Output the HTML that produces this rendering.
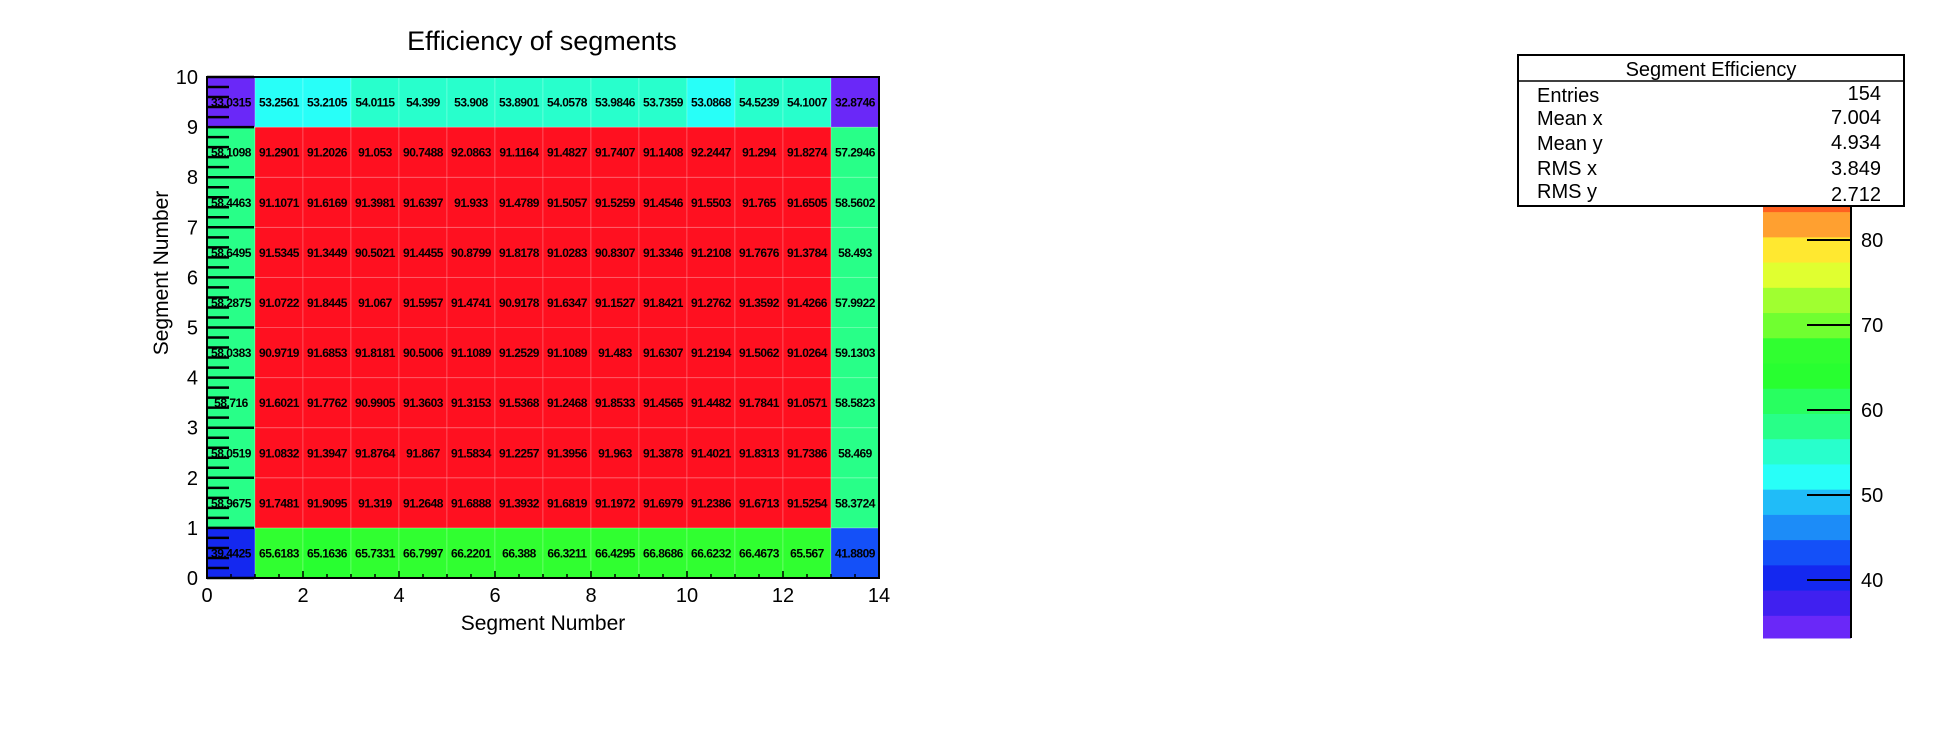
<!DOCTYPE html>
<html><head><meta charset="utf-8"><style>
html,body{margin:0;padding:0;background:#fff;}
svg{display:block;font-family:"Liberation Sans",Arial,sans-serif;}
</style></head><body>
<svg id="chart" width="1954" height="742" viewBox="0 0 1954 742" xmlns="http://www.w3.org/2000/svg">
<rect width="1954" height="742" fill="#fff"/>
<text x="542" y="50" font-size="27" text-anchor="middle">Efficiency of segments</text>
<g id="cells"></g>
<g id="axes"></g>
<text x="543" y="630" font-size="21" text-anchor="middle">Segment Number</text>
<text transform="translate(168,273) rotate(-90)" font-size="21" text-anchor="middle">Segment Number</text>
<g id="palette"></g>
<g>
<rect x="1518" y="55" width="386" height="151" fill="#fff" stroke="#000" stroke-width="2"/>
<line x1="1518" y1="81" x2="1904" y2="81" stroke="#000" stroke-width="1.5"/>
<text x="1711" y="76" font-size="20" text-anchor="middle">Segment Efficiency</text>
<text x="1537" y="102" font-size="20">Entries</text>
<text x="1881" y="100" font-size="20" text-anchor="end">154</text>
<text x="1537" y="125" font-size="20">Mean x</text>
<text x="1881" y="124" font-size="20" text-anchor="end">7.004</text>
<text x="1537" y="150" font-size="20">Mean y</text>
<text x="1881" y="149" font-size="20" text-anchor="end">4.934</text>
<text x="1537" y="175" font-size="20">RMS x</text>
<text x="1881" y="175" font-size="20" text-anchor="end">3.849</text>
<text x="1537" y="198" font-size="20">RMS y</text>
<text x="1881" y="201" font-size="20" text-anchor="end">2.712</text>
</g>
</svg>
<script>
// rows listed from y=9 (top) down to y=0 (bottom)
const row9=[33.0315,53.2561,53.2105,54.0115,54.399,53.908,53.8901,54.0578,53.9846,53.7359,53.0868,54.5239,54.1007,32.8746];
const row8=[58.1098,91.2901,91.2026,91.053,90.7488,92.0863,91.1164,91.4827,91.7407,91.1408,92.2447,91.294,91.8274,57.2946];
const row7=[58.4463,91.1071,91.6169,91.3981,91.6397,91.933,91.4789,91.5057,91.5259,91.4546,91.5503,91.765,91.6505,58.5602];
const row6=[58.6495,91.5345,91.3449,90.5021,91.4455,90.8799,91.8178,91.0283,90.8307,91.3346,91.2108,91.7676,91.3784,58.493];
const row5=[58.2875,91.0722,91.8445,91.067,91.5957,91.4741,90.9178,91.6347,91.1527,91.8421,91.2762,91.3592,91.4266,57.9922];
const row4=[58.0383,90.9719,91.6853,91.8181,90.5006,91.1089,91.2529,91.1089,91.483,91.6307,91.2194,91.5062,91.0264,59.1303];
const row3=[58.716,91.6021,91.7762,90.9905,91.3603,91.3153,91.5368,91.2468,91.8533,91.4565,91.4482,91.7841,91.0571,58.5823];
const row2=[58.0519,91.0832,91.3947,91.8764,91.867,91.5834,91.2257,91.3956,91.963,91.3878,91.4021,91.8313,91.7386,58.469];
const row1=[58.9675,91.7481,91.9095,91.319,91.2648,91.6888,91.3932,91.6819,91.1972,91.6979,91.2386,91.6713,91.5254,58.3724];
const row0=[39.4425,65.6183,65.1636,65.7331,66.7997,66.2201,66.388,66.3211,66.4295,66.8686,66.6232,66.4673,65.567,41.8809];
const xTicks=[0,2,4,6,8,10,12,14];
const yTicks=[0,1,2,3,4,5,6,7,8,9,10];
const zTicks=[40,50,60,70,80];
const bandColors=["#6a28f8","#4020f0","#1428f0","#1450f8","#1c8cf8","#20bcf8","#28fff8","#28ffcc","#28ff88","#28ff60","#28ff30","#30ff30","#70ff30","#a0ff30","#e0ff30","#ffe830","#ffa030","#ff6020","#ff3020","#ff1020"];

const NS="http://www.w3.org/2000/svg";
const X0=207,X1=879,Y0=578,Y1=77;
const xs=v=>X0+(X1-X0)*v/14;
const ys=v=>Y0-(Y0-Y1)*v/10;
const rows=[row0,row1,row2,row3,row4,row5,row6,row7,row8,row9];
let zmin=Infinity,zmax=-Infinity;
rows.forEach(r=>r.forEach(v=>{zmin=Math.min(zmin,v);zmax=Math.max(zmax,v);}));
const nb=bandColors.length;
const colorOf=v=>bandColors[Math.max(0,Math.min(nb-1,Math.floor((v-zmin)/(zmax-zmin)*nb)))];
function mk(tag,attrs,parent){const e=document.createElementNS(NS,tag);for(const k in attrs)e.setAttribute(k,attrs[k]);parent.appendChild(e);return e;}

const cells=document.getElementById('cells');
rows.forEach((r,j)=>r.forEach((v,i)=>{
  const rc=mk('rect',{x:xs(i),y:ys(j+1),width:xs(i+1)-xs(i),height:ys(j)-ys(j+1),fill:colorOf(v),stroke:'rgba(255,255,255,0.2)','stroke-width':1},cells);
  
  
  const t=mk('text',{x:(xs(i)+xs(i+1))/2,y:(ys(j)+ys(j+1))/2+4.5,'font-size':12,'font-weight':'bold','text-anchor':'middle','letter-spacing':'-0.5'},cells);
  t.textContent=String(v);
  
  
}));

const ax=document.getElementById('axes');
const fr=mk('rect',{x:X0,y:Y1,width:X1-X0,height:Y0-Y1,fill:'none',stroke:'#000','stroke-width':2},ax);


for(let v=0;v<=10.001;v+=0.2){
  const major=Math.abs(v-Math.round(v))<1e-6;
  const l=mk('line',{x1:X0,x2:X0+(major?47:22),y1:ys(v),y2:ys(v),stroke:'#000','stroke-width':2.5},ax);
  
  
}
yTicks.forEach(v=>{
  const t=mk('text',{x:X0-9,y:ys(v)+7,'font-size':20,'text-anchor':'end'},ax);
  t.textContent=v;
  
  
});
for(let v=0;v<=14.001;v+=0.5){
  const major=Math.abs(v/2-Math.round(v/2))<1e-6;
  const l=mk('line',{x1:xs(v),x2:xs(v),y1:Y0,y2:Y0-(major?7:4),stroke:'#000','stroke-width':1.5},ax);
  
  
}
xTicks.forEach(v=>{
  const t=mk('text',{x:xs(v),y:Y0+24,'font-size':20,'text-anchor':'middle'},ax);
  t.textContent=v;
  
  
});

const pal=document.getElementById('palette');
const PX0=1763,PX1=1851,PTOP=206,PBOT=638;
const zs=v=>580-(v-40)*8.5;
for(let b=0;b<nb;b++){
  const lo=zmin+(zmax-zmin)*b/nb, hi=zmin+(zmax-zmin)*(b+1)/nb;
  let ya=zs(hi), yb=Math.min(zs(lo),PBOT);
  if(yb<=PTOP) continue;
  ya=Math.max(ya,PTOP);
  const r=mk('rect',{x:PX0,y:ya,width:PX1-PX0,height:yb-ya+0.5,fill:bandColors[b]},pal);
  
  
}
const axl=mk('line',{x1:PX1,x2:PX1,y1:PTOP,y2:PBOT,stroke:'#000','stroke-width':2},pal);


zTicks.forEach(v=>{
  const l=mk('line',{x1:PX1-44,x2:PX1,y1:zs(v),y2:zs(v),stroke:'#000','stroke-width':2},pal);
  
  
  const t=mk('text',{x:PX1+10,y:zs(v)+7,'font-size':20},pal);
  t.textContent=v;
  
  
});
</script>
</body></html>
